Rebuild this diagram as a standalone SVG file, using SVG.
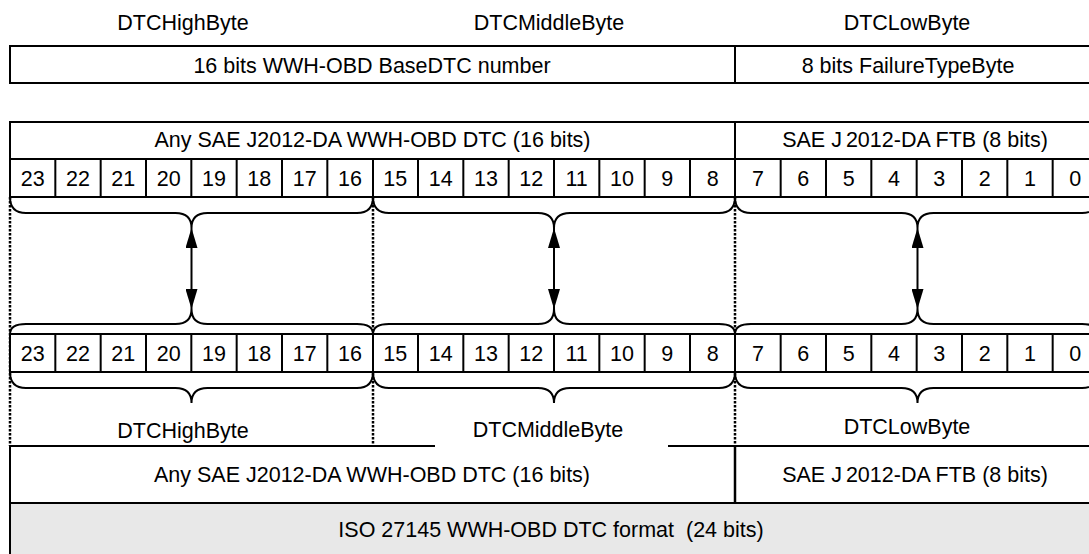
<svg xmlns="http://www.w3.org/2000/svg" width="1089" height="554" viewBox="0 0 1089 554">
<style>
  text { font-family: "Liberation Sans", Arial, sans-serif; font-size: 21.5px; fill: #000; text-anchor: middle; }
  .box { fill: #fff; stroke: #000; stroke-width: 2; }
  .gray { fill: #e8e8e8; stroke: #000; stroke-width: 2; }
  .ln { stroke: #000; stroke-width: 2; fill: none; }
  .div { stroke: #000; stroke-width: 2.5; fill: none; }
  .brace { stroke: #000; stroke-width: 2; fill: none; }
  .dot { stroke: #000; stroke-width: 2.5; stroke-dasharray: 2.5 1.5; fill: none; }
  .arr { stroke: #000; stroke-width: 2; fill: none; marker-start: url(#ah); marker-end: url(#ah); }
</style>
<defs>
  <marker id="ah" viewBox="0 0 20 12" refX="20" refY="6" markerWidth="20" markerHeight="12" markerUnits="userSpaceOnUse" orient="auto-start-reverse">
    <path d="M0,0 L20,6 L0,12 z" fill="#000"/>
  </marker>
</defs>
<rect width="1089" height="554" fill="#fff"/>

<g id="top-labels">
  <text x="183" y="30">DTCHighByte</text>
  <text x="549" y="30">DTCMiddleByte</text>
  <text x="907" y="30">DTCLowByte</text>
</g>

<g id="top-box">
  <rect class="box" x="10" y="46" width="1090" height="37"/>
  <line class="ln" x1="735" y1="46" x2="735" y2="83"/>
  <text x="372" y="72.5">16 bits WWH-OBD BaseDTC number</text>
  <text x="908" y="72.5">8 bits FailureTypeByte</text>
</g>

<g id="connectors">
  <line class="dot" x1="10" y1="197" x2="10" y2="446"/>
  <line class="dot" x1="373" y1="197" x2="373" y2="446"/>
  <line class="dot" x1="735" y1="197" x2="735" y2="446"/>
  <path class="brace" d="M10,197 Q10,213 26,213 L175.5,213 Q191.5,213 191.5,228 Q191.5,213 207.5,213 L357,213 Q373,213 373,197"/>
  <path class="brace" d="M373,197 Q373,213 389,213 L538,213 Q554,213 554,228 Q554,213 570,213 L719,213 Q735,213 735,197"/>
  <path class="brace" d="M735,197 Q735,213 751,213 L901.5,213 Q917.5,213 917.5,228 Q917.5,213 933.5,213 L1082,213 Q1098,213 1098,197"/>
  <path class="brace" d="M10,334 Q10,324 26,324 L175.5,324 Q191.5,324 191.5,309 Q191.5,324 207.5,324 L357,324 Q373,324 373,334"/>
  <path class="brace" d="M373,334 Q373,324 389,324 L538,324 Q554,324 554,309 Q554,324 570,324 L719,324 Q735,324 735,334"/>
  <path class="brace" d="M735,334 Q735,324 751,324 L901.5,324 Q917.5,324 917.5,309 Q917.5,324 933.5,324 L1082,324 Q1098,324 1098,334"/>
  <path class="brace" d="M10,372 Q10,388 26,388 L175.5,388 Q191.5,388 191.5,403 Q191.5,388 207.5,388 L357,388 Q373,388 373,372"/>
  <path class="brace" d="M373,372 Q373,388 389,388 L538,388 Q554,388 554,403 Q554,388 570,388 L719,388 Q735,388 735,372"/>
  <path class="brace" d="M735,372 Q735,388 751,388 L901.5,388 Q917.5,388 917.5,403 Q917.5,388 933.5,388 L1082,388 Q1098,388 1098,372"/>
  <line class="arr" x1="191.5" y1="228" x2="191.5" y2="309"/>
  <line class="arr" x1="554" y1="228" x2="554" y2="309"/>
  <line class="arr" x1="917.5" y1="228" x2="917.5" y2="309"/>
</g>

<g id="header-row">
  <rect class="box" x="10" y="122" width="1090" height="37"/>
  <line class="ln" x1="735" y1="122" x2="735" y2="159"/>
  <text x="372.5" y="147">Any SAE J2012-DA WWH-OBD DTC (16 bits)</text>
  <text x="915" y="147">SAE J<tspan dx="4">2012-DA FTB</tspan> (8 bits)</text>
</g>

<g id="bits-top">
  <rect class="box" x="10" y="159" width="1088" height="38"/>
  <path class="ln" d="M55.33,159V197M100.67,159V197M146,159V197M191.33,159V197M236.67,159V197M282,159V197M327.33,159V197M373,159V197M418,159V197M463.33,159V197M508.67,159V197M554,159V197M599.33,159V197M644.67,159V197M690,159V197M735,159V197M780.67,159V197M826,159V197M871.33,159V197M916.67,159V197M962,159V197M1007.33,159V197M1052.67,159V197"/>
  <text x="32.67" y="185.5">23</text>
  <text x="78" y="185.5">22</text>
  <text x="123.33" y="185.5">21</text>
  <text x="168.67" y="185.5">20</text>
  <text x="214" y="185.5">19</text>
  <text x="259.33" y="185.5">18</text>
  <text x="304.67" y="185.5">17</text>
  <text x="350" y="185.5">16</text>
  <text x="395.33" y="185.5">15</text>
  <text x="440.67" y="185.5">14</text>
  <text x="486" y="185.5">13</text>
  <text x="531.33" y="185.5">12</text>
  <text x="576.67" y="185.5">11</text>
  <text x="622" y="185.5">10</text>
  <text x="667.33" y="185.5">9</text>
  <text x="712.67" y="185.5">8</text>
  <text x="758" y="185.5">7</text>
  <text x="803.33" y="185.5">6</text>
  <text x="848.67" y="185.5">5</text>
  <text x="894" y="185.5">4</text>
  <text x="939.33" y="185.5">3</text>
  <text x="984.67" y="185.5">2</text>
  <text x="1030" y="185.5">1</text>
  <text x="1075.33" y="185.5">0</text>
</g>

<g id="bits-bottom">
  <rect class="box" x="10" y="334" width="1088" height="38"/>
  <path class="ln" d="M55.33,334V372M100.67,334V372M146,334V372M191.33,334V372M236.67,334V372M282,334V372M327.33,334V372M373,334V372M418,334V372M463.33,334V372M508.67,334V372M554,334V372M599.33,334V372M644.67,334V372M690,334V372M735,334V372M780.67,334V372M826,334V372M871.33,334V372M916.67,334V372M962,334V372M1007.33,334V372M1052.67,334V372"/>
  <text x="32.67" y="360.5">23</text>
  <text x="78" y="360.5">22</text>
  <text x="123.33" y="360.5">21</text>
  <text x="168.67" y="360.5">20</text>
  <text x="214" y="360.5">19</text>
  <text x="259.33" y="360.5">18</text>
  <text x="304.67" y="360.5">17</text>
  <text x="350" y="360.5">16</text>
  <text x="395.33" y="360.5">15</text>
  <text x="440.67" y="360.5">14</text>
  <text x="486" y="360.5">13</text>
  <text x="531.33" y="360.5">12</text>
  <text x="576.67" y="360.5">11</text>
  <text x="622" y="360.5">10</text>
  <text x="667.33" y="360.5">9</text>
  <text x="712.67" y="360.5">8</text>
  <text x="758" y="360.5">7</text>
  <text x="803.33" y="360.5">6</text>
  <text x="848.67" y="360.5">5</text>
  <text x="894" y="360.5">4</text>
  <text x="939.33" y="360.5">3</text>
  <text x="984.67" y="360.5">2</text>
  <text x="1030" y="360.5">1</text>
  <text x="1075.33" y="360.5">0</text>
</g>

<g id="byte-labels">
  <text x="183" y="438">DTCHighByte</text>
  <text x="548" y="437">DTCMiddleByte</text>
  <text x="907" y="434">DTCLowByte</text>
</g>

<g id="bottom-row">
  <path class="ln" d="M10,503 V446 H435 M668,446 H1100"/>
  <line class="div" x1="735" y1="446" x2="735" y2="503"/>
  <text x="372" y="482">Any SAE J2012-DA WWH-OBD DTC (16 bits)</text>
  <text x="915" y="482">SAE J<tspan dx="4">2012-DA FTB</tspan> (8 bits)</text>
</g>

<g id="iso-row">
  <rect class="gray" x="10" y="503" width="1090" height="60"/>
  <text x="551" y="537">ISO 27145 WWH-OBD DTC format <tspan dx="6">(24 bits)</tspan></text>
</g>
</svg>
